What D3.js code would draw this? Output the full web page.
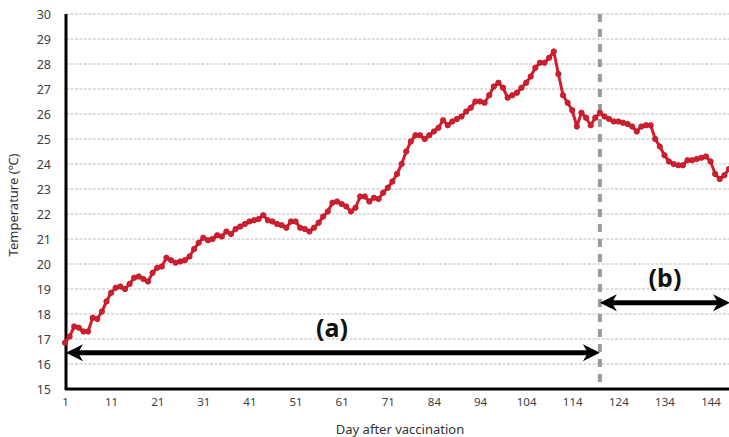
<!DOCTYPE html>
<html><head><meta charset="utf-8">
<script src="https://cdn.jsdelivr.net/npm/d3@7"></script>
<style>body{margin:0;background:#fff}svg{display:block}text{font-family:"Noto Sans","Open Sans",sans-serif}</style>
</head><body><div id="chart"></div>
<script>
const temperatures = [16.85,17.1,17.5,17.45,17.3,17.3,17.85,17.8,18.1,18.5,
18.85,19.05,19.1,19.0,19.2,19.45,19.5,19.4,19.3,19.65,
19.85,19.9,20.25,20.15,20.05,20.1,20.15,20.3,20.6,20.85,
21.05,20.95,21.0,21.15,21.1,21.3,21.2,21.4,21.5,21.6,
21.7,21.75,21.8,21.95,21.75,21.7,21.6,21.55,21.45,21.7,
21.7,21.45,21.4,21.3,21.45,21.65,21.9,22.1,22.45,22.5,
22.4,22.3,22.1,22.25,22.7,22.7,22.5,22.65,22.6,22.85,
23.05,23.3,23.6,24.0,24.5,24.9,25.15,25.15,25.0,25.15,
25.3,25.45,25.75,25.55,25.7,25.8,25.9,26.1,26.25,26.5,
26.5,26.45,26.75,27.1,27.25,27.05,26.65,26.75,26.85,27.05,
27.25,27.5,27.85,28.05,28.05,28.25,28.5,27.6,26.75,26.45,
26.15,25.5,26.05,25.85,25.55,25.85,26.05,25.9,25.8,25.7,
25.7,25.65,25.6,25.5,25.3,25.5,25.55,25.55,25.0,24.7,
24.35,24.1,24.0,23.95,23.95,24.15,24.15,24.2,24.25,24.3,
24.1,23.6,23.4,23.55,23.8];
const tickPositions = [0,10,20,30,40,50,60,70,80,90,100,110,120,130,140];
const tickLabels = ["1","11","21","31","41","51","61","71","84","94","104","114","124","134","144"];
const yTicks = [15,16,17,18,19,20,21,22,23,24,25,26,27,28,29,30];
const splitIndex = 116;
const periodLabels = ["(a)","(b)"];
const periodRows = [16.45, 18.45]; // y-levels of the period arrows
const periodText = [17.1, 19.1];

const W = 729, H = 437;
const svg = d3.select("#chart").append("svg").attr("width", W).attr("height", H);
const x = d3.scaleLinear().domain([0, 144]).range([65, 729]);
const y = d3.scaleLinear().domain([15, 30]).range([389, 14]);

// gridlines
svg.append("g").selectAll("line").data(yTicks.slice(1)).join("line")
  .attr("x1", 66).attr("x2", W).attr("y1", d => y(d)).attr("y2", d => y(d))
  .attr("stroke", "#bdbdbd").attr("stroke-width", 1).attr("stroke-dasharray", "3,1.5");

// y axis
const yAxis = svg.append("g").attr("transform", "translate(66,0)")
  .call(d3.axisLeft(y).tickValues(yTicks).tickSize(0).tickPadding(15).tickFormat(d3.format("d")));
yAxis.select(".domain").remove();
yAxis.selectAll("text").attr("font-size", 12.5).attr("fill", "#404040");

// x axis
const xAxis = svg.append("g").attr("transform", "translate(0,389)")
  .call(d3.axisBottom(x).tickValues(tickPositions).tickSize(0).tickPadding(9)
    .tickFormat((d, i) => tickLabels[i]));
xAxis.select(".domain").remove();
xAxis.selectAll("text").attr("font-size", 11.5).attr("fill", "#404040");

// axis lines
svg.append("line").attr("x1", 66).attr("x2", 66).attr("y1", y(30)).attr("y2", 390)
  .attr("stroke", "#000").attr("stroke-width", 3);
svg.append("line").attr("x1", 65).attr("x2", W).attr("y1", 389).attr("y2", 389)
  .attr("stroke", "#000").attr("stroke-width", 3);

// split line
svg.append("line").attr("x1", x(splitIndex)).attr("x2", x(splitIndex))
  .attr("y1", y(30)).attr("y2", 389)
  .attr("stroke", "#9a9a9a").attr("stroke-width", 4).attr("stroke-dasharray", "8,7");

// series
const line = d3.line().x((d, i) => x(i)).y(d => y(d));
svg.append("path").datum(temperatures).attr("d", line)
  .attr("fill", "none").attr("stroke", "#d21f2e").attr("stroke-width", 3).attr("stroke-linejoin", "round");
svg.append("g").selectAll("circle").data(temperatures).join("circle")
  .attr("cx", (d, i) => x(i)).attr("cy", d => y(d)).attr("r", 2.7)
  .attr("fill", "#d21f2e").attr("stroke", "#b5182a").attr("stroke-width", 0.8);

// arrows
function arrowHead(px, py, dir) {
  const L = 17, Hh = 8.5, notch = 5;
  const p = [[px, py], [px - dir * L, py - Hh], [px - dir * (L - notch), py], [px - dir * L, py + Hh]];
  svg.append("path").attr("d", "M" + p.map(q => q.join(",")).join("L") + "Z").attr("fill", "#000");
}
function doubleArrow(x1, x2, yy) {
  svg.append("line").attr("x1", x1 + 8).attr("x2", x2 - 8).attr("y1", yy).attr("y2", yy)
    .attr("stroke", "#000").attr("stroke-width", 5);
  arrowHead(x1, yy, -1);
  arrowHead(x2, yy, 1);
}
doubleArrow(x(0) + 1, x(splitIndex), y(periodRows[0]));
doubleArrow(x(splitIndex), W + 1, y(periodRows[1]));

svg.append("text").attr("x", 332).attr("y", y(periodText[0])).attr("text-anchor", "middle")
  .attr("font-size", 25).attr("font-weight", "bold").attr("fill", "#111").text(periodLabels[0]);
svg.append("text").attr("x", 665).attr("y", y(periodText[1])).attr("text-anchor", "middle")
  .attr("font-size", 25).attr("font-weight", "bold").attr("fill", "#111").text(periodLabels[1]);

// axis titles
svg.append("text").attr("x", 400).attr("y", 434).attr("text-anchor", "middle")
  .attr("font-size", 13).attr("fill", "#333").text("Day after vaccination");
svg.append("text").attr("transform", "translate(18,205) rotate(-90)").attr("text-anchor", "middle")
  .attr("font-size", 13).attr("fill", "#333").text("Temperature (℃)");
</script></body></html>
